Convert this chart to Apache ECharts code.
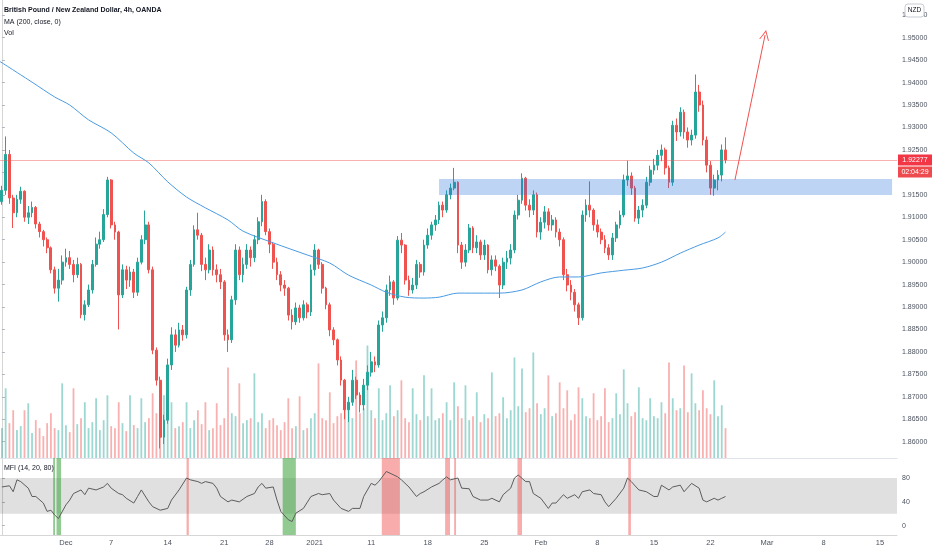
<!DOCTYPE html>
<html><head><meta charset="utf-8">
<script src="https://cdn.jsdelivr.net/npm/echarts@6/dist/echarts.min.js"></script>
<style>html,body{margin:0;padding:0;background:#fff}#c{width:932px;height:550px}</style>
</head><body><div id="c"></div>
<script>
// ---- data (bar index = 8h step) ----
// candles: [open, close, low, high]
const candles = [
[1.9135,1.9160,1.9128,1.9170],[1.9160,1.9240,1.9150,1.9280],[1.9240,1.9143,1.9130,1.9250],[1.9143,1.9110,1.9076,1.9150],[1.9110,1.9140,1.9100,1.9150],
[1.9140,1.9158,1.9130,1.9168],[1.9158,1.9100,1.9090,1.9160],[1.9100,1.9110,1.9085,1.9125],[1.9110,1.9122,1.9100,1.9135],[1.9122,1.9085,1.9075,1.9125],
[1.9085,1.9068,1.9055,1.9090],[1.9068,1.9050,1.9035,1.9072],[1.9050,1.9032,1.9020,1.9055],[1.9032,1.8983,1.8975,1.9035],[1.8983,1.8942,1.8930,1.8990],
[1.8942,1.8960,1.8912,1.8985],[1.8960,1.9000,1.8950,1.9015],[1.9000,1.9010,1.8990,1.9030],[1.9010,1.8995,1.8985,1.9025],[1.8995,1.8972,1.8955,1.9005],
[1.8972,1.8995,1.8965,1.9010],[1.8995,1.8883,1.8875,1.8998],[1.8883,1.8905,1.8870,1.8915],[1.8905,1.8938,1.8900,1.8950],[1.8938,1.8995,1.8930,1.9005],
[1.8995,1.9040,1.8990,1.9055],[1.9040,1.9050,1.9030,1.9068],[1.9050,1.9106,1.9045,1.9118],[1.9106,1.9183,1.9100,1.9190],[1.9183,1.9083,1.9075,1.9185],
[1.9083,1.9067,1.9050,1.9090],[1.9067,1.8927,1.8850,1.9070],[1.8927,1.8983,1.8920,1.8995],[1.8983,1.8960,1.8940,1.8992],[1.8960,1.8978,1.8945,1.8990],
[1.8978,1.8933,1.8920,1.8985],[1.8933,1.9000,1.8925,1.9010],[1.9000,1.9050,1.8995,1.9060],[1.9050,1.9083,1.9040,1.9115],[1.9083,1.8983,1.8975,1.9090],
[1.8983,1.8804,1.8795,1.8990],[1.8804,1.8737,1.8725,1.8810],[1.8737,1.8610,1.8585,1.8745],[1.8610,1.8648,1.8595,1.8660],[1.8648,1.8771,1.8640,1.8785],
[1.8771,1.8838,1.8760,1.8855],[1.8838,1.8815,1.8800,1.8850],[1.8815,1.8849,1.8810,1.8865],[1.8849,1.8838,1.8825,1.8860],[1.8838,1.8938,1.8830,1.8945],
[1.8938,1.8995,1.8925,1.9005],[1.8995,1.9072,1.8990,1.9082],[1.9072,1.9060,1.9050,1.9110],[1.9060,1.8995,1.8980,1.9065],[1.8995,1.8983,1.8960,1.9010],
[1.8983,1.9027,1.8975,1.9040],[1.9027,1.8983,1.8970,1.9035],[1.8983,1.8972,1.8955,1.8995],[1.8972,1.8956,1.8940,1.8985],[1.8956,1.8838,1.8825,1.8960],
[1.8838,1.8827,1.8800,1.8850],[1.8827,1.8916,1.8820,1.8925],[1.8916,1.9027,1.8905,1.9040],[1.9027,1.8972,1.8960,1.9035],[1.8972,1.8995,1.8955,1.9010],
[1.8995,1.9027,1.8985,1.9040],[1.9027,1.9010,1.8990,1.9035],[1.9010,1.9050,1.9000,1.9060],[1.9050,1.9090,1.9040,1.9100],[1.9090,1.9135,1.9080,1.9150],
[1.9135,1.9068,1.9060,1.9140],[1.9068,1.9040,1.9020,1.9075],[1.9040,1.9000,1.8985,1.9045],[1.9000,1.8972,1.8960,1.9010],[1.8972,1.8949,1.8935,1.8980],
[1.8949,1.8942,1.8925,1.8960],[1.8942,1.8882,1.8870,1.8945],[1.8882,1.8867,1.8850,1.8895],[1.8867,1.8898,1.8860,1.8910],[1.8898,1.8876,1.8865,1.8905],
[1.8876,1.8905,1.8870,1.8915],[1.8905,1.8889,1.8875,1.8910],[1.8889,1.8983,1.8880,1.8995],[1.8983,1.9027,1.8970,1.9040],[1.9027,1.8995,1.8985,1.9030],
[1.8995,1.8942,1.8930,1.9000],[1.8942,1.8905,1.8895,1.8945],[1.8905,1.8849,1.8835,1.8910],[1.8849,1.8827,1.8815,1.8855],[1.8827,1.8782,1.8770,1.8830],
[1.8782,1.8737,1.8725,1.8790],[1.8737,1.8671,1.8650,1.8740],[1.8671,1.8688,1.8644,1.8700],[1.8688,1.8737,1.8680,1.8760],[1.8737,1.8704,1.8695,1.8745],
[1.8704,1.8682,1.8665,1.8710],[1.8682,1.8726,1.8670,1.8740],[1.8726,1.8755,1.8715,1.8770],[1.8755,1.8778,1.8745,1.8800],[1.8778,1.8771,1.8755,1.8790],
[1.8771,1.8860,1.8765,1.8870],[1.8860,1.8876,1.8845,1.8890],[1.8876,1.8938,1.8865,1.8950],[1.8938,1.8956,1.8925,1.8970],[1.8956,1.8920,1.8905,1.8960],
[1.8920,1.9049,1.8915,1.9058],[1.9049,1.9038,1.9020,1.9065],[1.9038,1.8960,1.8950,1.9040],[1.8960,1.8938,1.8925,1.8970],[1.8938,1.8949,1.8930,1.8965],
[1.8949,1.8995,1.8940,1.9005],[1.8995,1.8978,1.8965,1.9000],[1.8978,1.9038,1.8970,1.9050],[1.9038,1.9060,1.9030,1.9075],[1.9060,1.9083,1.9050,1.9090],
[1.9083,1.9094,1.9070,1.9105],[1.9094,1.9127,1.9085,1.9135],[1.9127,1.9116,1.9100,1.9135],[1.9116,1.9150,1.9110,1.9160],[1.9150,1.9165,1.9140,1.9175],
[1.9165,1.9178,1.9160,1.9210],[1.9178,1.9038,1.9020,1.9180],[1.9038,1.9000,1.8985,1.9045],[1.9000,1.9027,1.8990,1.9040],[1.9027,1.9076,1.9020,1.9085],
[1.9076,1.9032,1.9020,1.9080],[1.9032,1.9045,1.9020,1.9060],[1.9045,1.9016,1.9005,1.9050],[1.9016,1.9038,1.9005,1.9050],[1.9038,1.8983,1.8975,1.9040],
[1.8983,1.9005,1.8970,1.9015],[1.9005,1.8991,1.8980,1.9015],[1.8991,1.8949,1.8920,1.8995],[1.8949,1.9000,1.8940,1.9010],[1.9000,1.9009,1.8985,1.9025],
[1.9009,1.9027,1.8995,1.9040],[1.9027,1.9105,1.9020,1.9115],[1.9105,1.9138,1.9095,1.9150],[1.9138,1.9187,1.9130,1.9198],[1.9187,1.9127,1.9115,1.9190],
[1.9127,1.9116,1.9100,1.9140],[1.9116,1.9150,1.9105,1.9160],[1.9150,1.9067,1.9055,1.9155],[1.9067,1.9089,1.9050,1.9100],[1.9089,1.9112,1.9075,1.9125],
[1.9112,1.9083,1.9070,1.9120],[1.9083,1.9094,1.9070,1.9105],[1.9094,1.9067,1.9055,1.9100],[1.9067,1.9050,1.9035,1.9075],[1.9050,1.8972,1.8960,1.9055],
[1.8972,1.8949,1.8935,1.8985],[1.8949,1.8933,1.8915,1.8960],[1.8933,1.8905,1.8890,1.8940],[1.8905,1.8876,1.8860,1.8910],[1.8876,1.9105,1.8870,1.9115],
[1.9105,1.9127,1.9090,1.9140],[1.9127,1.9116,1.9100,1.9180],[1.9116,1.9083,1.9070,1.9120],[1.9083,1.9067,1.9055,1.9095],[1.9067,1.9050,1.9040,1.9075],
[1.9050,1.9032,1.9020,1.9060],[1.9032,1.9016,1.9005,1.9040],[1.9016,1.9054,1.9005,1.9065],[1.9054,1.9083,1.9045,1.9090],[1.9083,1.9105,1.9075,1.9115],
[1.9105,1.9183,1.9100,1.9195],[1.9183,1.9192,1.9170,1.9226],[1.9192,1.9165,1.9150,1.9200],[1.9165,1.9098,1.9090,1.9170],[1.9098,1.9116,1.9085,1.9125],
[1.9116,1.9127,1.9100,1.9140],[1.9127,1.9178,1.9120,1.9190],[1.9178,1.9205,1.9170,1.9215],[1.9205,1.9216,1.9195,1.9230],[1.9216,1.9238,1.9205,1.9250],
[1.9238,1.9250,1.9225,1.9262],[1.9250,1.9210,1.9195,1.9255],[1.9210,1.9178,1.9165,1.9215],[1.9178,1.9305,1.9170,1.9315],[1.9305,1.9290,1.9270,1.9320],
[1.9290,1.9334,1.9280,1.9345],[1.9334,1.9290,1.9275,1.9340],[1.9290,1.9272,1.9255,1.9300],[1.9272,1.9283,1.9260,1.9295],[1.9283,1.9379,1.9275,1.9418],
[1.9379,1.9350,1.9335,1.9395],[1.9350,1.9272,1.9260,1.9360],[1.9272,1.9216,1.9200,1.9280],[1.9216,1.9165,1.9150,1.9225],[1.9165,1.9183,1.9148,1.9195],
[1.9183,1.9194,1.9160,1.9205],[1.9194,1.9250,1.9180,1.9262],[1.9250,1.92277,1.9220,1.9278]
];
const volumes = [
30,70,35,48,28,32,48,55,25,38, 30,22,35,45,30,28,75,33,26,70,
34,40,56,30,36,60,28,38,63,32, 30,56,35,27,63,33,30,60,36,40,
65,45,50,63,38,56,30,32,36,56, 30,38,48,34,56,28,30,55,33,40,
91,45,42,75,35,38,40,85,36,45, 30,38,40,33,28,36,60,30,32,62,
28,30,40,45,95,40,38,66,35,42, 45,60,48,40,98,45,50,113,48,40,
70,38,45,73,42,48,78,40,36,70, 44,38,83,42,70,38,40,45,56,38,
76,52,40,73,38,42,66,36,44,40, 86,42,45,61,40,48,101,52,90,46,
50,106,55,44,50,83,42,45,76,50, 68,38,44,71,60,42,40,65,38,42,
70,36,40,65,44,89,55,42,46,71, 40,38,60,42,40,56,45,96,60,48,
50,93,46,85,55,48,68,50,44,78, 42,53,30
];
const maPoints = [[-0.5,1.9447],[8,1.9401],[14,1.9368],[18,1.9350],[23,1.9317],[29,1.9288],[35,1.9243],[39,1.9221],[44,1.9179],[49,1.9145],[54,1.9121],[60,1.9094],[64,1.9069],[72,1.9043],[81,1.9016],[87,1.8998],[92,1.8971],[98,1.8949],[102,1.8933],[107,1.8922],[112,1.8920],[116,1.8922],[121,1.8931],[128,1.8931],[132,1.8931],[138,1.8938],[143,1.8956],[148,1.8967],[153,1.8967],[159,1.8976],[165,1.8982],[170,1.8987],[175,1.9000],[180,1.9020],[185,1.9038],[190,1.9054],[192,1.9067]];
const mfiPoints = [[0,65],[2,67],[3,57],[4,77],[5,74],[7,63],[8,49],[9,49],[11,38],[12,24],[13,26],[14,18],[15,12],[17,35],[18,43],[19,54],[21,60],[22,52],[23,63],[25,60],[27,65],[28,71],[29,63],[31,54],[32,52],[33,46],[35,38],[36,49],[37,60],[39,40],[40,32],[42,26],[44,29],[45,43],[47,60],[49,80],[50,77],[52,74],[53,71],[54,74],[56,71],[57,63],[58,49],[60,40],[61,43],[63,40],[65,49],[67,54],[68,65],[69,71],[70,63],[72,65],[73,43],[74,24],[76,10],[77,7],[78,21],[80,29],[82,49],[84,54],[85,52],[87,54],[88,43],[90,29],[92,24],[93,29],[95,29],[96,49],[98,71],[99,68],[100,74],[102,91],[104,85],[105,82],[106,77],[108,65],[110,49],[111,54],[112,57],[114,65],[116,71],[117,77],[118,82],[119,77],[121,80],[122,63],[124,62],[125,49],[127,43],[129,43],[130,46],[132,40],[133,52],[135,63],[136,80],[137,85],[139,74],[140,74],[141,54],[143,46],[145,29],[146,38],[147,38],[149,52],[150,46],[152,52],[153,46],[154,57],[156,60],[157,54],[159,52],[160,40],[161,32],[163,46],[165,63],[166,80],[167,74],[169,60],[171,57],[173,49],[174,49],[175,68],[177,60],[178,65],[180,68],[181,57],[183,71],[185,63],[186,43],[187,40],[189,46],[190,43],[191,46],[192,49]];
const mfiOverbought = [[49.0,49.6],[100.8,105.6],[117.6,118.9],[120.0,120.5],[136.8,138.0],[166.2,166.9]];
const mfiOversold = [[13.6,14.1],[14.5,15.7],[74.5,78.0]];
const xTickPos = [17,29,44,59,71,83,98,113,128,143,158,173,188,203,218,233];
const xTickLabels = ['Dec','7','14','21','28','2021','11','18','25','Feb','8','15','22','Mar','8','15'];
const priceTicks = [1.86,1.865,1.87,1.875,1.88,1.885,1.89,1.895,1.90,1.905,1.91,1.915,1.92,1.925,1.93,1.935,1.94,1.945,1.95,1.955];
const mfiTicks = [0,40,80];
const lastPrice = 1.92277;
const countdown = '02:04:29';
const zone = {x1:116.0, x2:236.2, top:1.91852, bottom:1.91495};
const arrow = [[194.5,1.9183],[202.5,1.9506]];

// ---- chart ----
const FONT = "'Liberation Sans', Arial, sans-serif";
const LBL = '#4c525e';
const UP = '#26a69a', DOWN = '#ef5350';
const X_MIN = -0.5, X_MAX = 237.5;
const chart = echarts.init(document.getElementById('c'));

const candleData = candles.map((r, i) => [i, r[0], r[1], r[2], r[3]]);
const volData = volumes.map((v, i) => ({
  value: [i, v],
  itemStyle: {color: candles[i][1] >= candles[i][0] ? 'rgba(38,166,154,0.45)' : 'rgba(239,83,80,0.45)'}
}));

const option = {
  animation: false,
  backgroundColor: '#fff',
  grid: [
    {left: 0, right: 35, top: 0, height: 458, outerBoundsMode: 'none'},
    {left: 0, right: 35, top: 458, height: 77, outerBoundsMode: 'none'}
  ],
  xAxis: [
    {type: 'value', gridIndex: 0, min: X_MIN, max: X_MAX,
     axisLine: {show: true, onZero: false, lineStyle: {color: '#e0e3eb'}},
     axisTick: {show: false}, axisLabel: {show: false}, splitLine: {show: false}},
    {type: 'value', gridIndex: 1, min: X_MIN, max: X_MAX,
     axisLine: {show: true, onZero: false, lineStyle: {color: '#d6d6d6'}},
     axisTick: {show: false}, splitLine: {show: false},
     axisLabel: {customValues: xTickPos, formatter: v => xTickLabels[xTickPos.indexOf(v)] || '',
       color: LBL, fontSize: 7.5, fontFamily: FONT, margin: 4}}
  ],
  yAxis: [
    {type: 'value', gridIndex: 0, position: 'right', min: 1.85637, max: 1.9584, scale: true,
     axisLine: {show: true, lineStyle: {color: '#d6d6d6'}},
     axisTick: {show: true, customValues: priceTicks, length: 3, lineStyle: {color: '#b2b5be'}},
     splitLine: {show: false},
     axisLabel: {customValues: priceTicks, formatter: v => v.toFixed(5), color: LBL, fontSize: 7, fontFamily: FONT, margin: 5}},
    {type: 'value', gridIndex: 0, min: 0, max: 460, show: false},
    {type: 'value', gridIndex: 1, position: 'right', min: -15.6, max: 113.6,
     axisLine: {show: true, lineStyle: {color: '#d6d6d6'}},
     axisTick: {show: true, customValues: mfiTicks, length: 3, lineStyle: {color: '#b2b5be'}},
     splitLine: {show: false},
     axisLabel: {customValues: mfiTicks, color: LBL, fontSize: 7, fontFamily: FONT, margin: 5}}
  ],
  series: [
    {type: 'bar', name: 'Vol', xAxisIndex: 0, yAxisIndex: 1, data: volData, barWidth: 1.8, z: 1, silent: true},
    {type: 'line', name: 'last price', xAxisIndex: 0, yAxisIndex: 0, data: [], z: 2,
     markLine: {silent: true, symbol: 'none', label: {show: false},
       lineStyle: {color: 'rgba(239,83,80,0.45)', width: 1, type: 'solid'},
       data: [[{coord: [X_MIN, lastPrice]}, {coord: [X_MAX, lastPrice]}]]}},
    {type: 'candlestick', name: 'GBPNZD', xAxisIndex: 0, yAxisIndex: 0,
     data: candleData, encode: {x: 0, y: [1, 2, 3, 4]}, barWidth: 2.3, z: 3,
     itemStyle: {color: UP, color0: DOWN, borderColor: UP, borderColor0: DOWN, borderWidth: 1},
     markArea: {silent: true, z: 4, itemStyle: {color: 'rgba(38,112,222,0.30)'},
       data: [[{coord: [zone.x1, zone.top]}, {coord: [zone.x2, zone.bottom]}]]}
    },
    {type: 'line', name: 'MA', xAxisIndex: 0, yAxisIndex: 0, data: maPoints, smooth: 0.3,
     showSymbol: false, symbol: 'none', z: 5, lineStyle: {color: '#4a9ae2', width: 1}},
    {type: 'line', name: 'arrow', xAxisIndex: 0, yAxisIndex: 0, data: [], z: 6,
     markLine: {silent: true, symbol: ['none', 'path://M0,10 L5,0 L10,10 L9,10 L5,2 L1,10 Z'], symbolSize: [10, 10],
       label: {show: false}, lineStyle: {color: '#f0514f', width: 1, type: 'solid'},
       data: [[{coord: arrow[0]}, {coord: arrow[1]}]]}},
    {type: 'line', name: 'MFI band', xAxisIndex: 1, yAxisIndex: 2, data: [], z: 1,
     markArea: {silent: true, itemStyle: {color: 'rgba(0,0,0,0.12)'}, data: [[{yAxis: 20}, {yAxis: 80}]]}},
    {type: 'line', name: 'MFI zones', xAxisIndex: 1, yAxisIndex: 2, data: [], z: 2,
     markArea: {silent: true,
       data: mfiOverbought.map(s => [{xAxis: s[0], itemStyle: {color: 'rgba(242,72,72,0.45)'}}, {xAxis: s[1]}])
         .concat(mfiOversold.map(s => [{xAxis: s[0], itemStyle: {color: 'rgba(56,160,56,0.55)'}}, {xAxis: s[1]}]))}},
    {type: 'line', name: 'MFI', xAxisIndex: 1, yAxisIndex: 2, data: mfiPoints, showSymbol: false, symbol: 'none',
     z: 4, lineStyle: {color: '#5d5d5d', width: 1}}
  ]
};
chart.setOption(option);

const yp = chart.convertToPixel({yAxisIndex: 0}, lastPrice);
const txt = (t, x, y, size, color, weight) => ({type: 'text', x: x, y: y, z: 100,
  style: {text: t, fill: color, fontSize: size, fontFamily: FONT, fontWeight: weight || 'normal', verticalAlign: 'middle'}});
chart.setOption({graphic: [
  txt('British Pound / New Zealand Dollar, 4h, OANDA', 4, 10, 7, '#131722', 'bold'),
  txt('MA (200, close, 0)', 4, 22, 7, '#131722'),
  txt('Vol', 4, 33, 7, '#131722'),
  txt('MFI (14, 20, 80)', 4, 468, 7, '#131722'),
  {type: 'rect', z: 100, shape: {x: 905, y: 4, width: 19, height: 13, r: 3},
   style: {fill: '#fff', stroke: '#c8cbd3', lineWidth: 1}},
  {type: 'text', z: 101, x: 914.5, y: 10.5,
   style: {text: 'NZD', fill: '#131722', fontSize: 6.5, fontFamily: FONT, align: 'center', verticalAlign: 'middle'}},
  {type: 'rect', z: 100, shape: {x: 898, y: yp - 5.5, width: 34, height: 11}, style: {fill: '#f23645'}},
  {type: 'text', z: 101, x: 915, y: yp,
   style: {text: lastPrice.toFixed(5), fill: '#fff', fontSize: 7, fontFamily: FONT, align: 'center', verticalAlign: 'middle'}},
  {type: 'rect', z: 100, shape: {x: 898, y: yp + 6.5, width: 34, height: 11}, style: {fill: '#ee4b4e'}},
  {type: 'text', z: 101, x: 915, y: yp + 12,
   style: {text: countdown, fill: '#fff', fontSize: 7, fontFamily: FONT, align: 'center', verticalAlign: 'middle'}}
]});
</script>
</body></html>
